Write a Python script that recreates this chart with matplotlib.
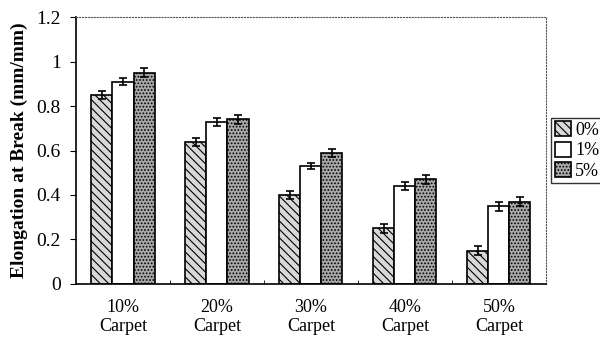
import numpy as np
import matplotlib.pyplot as plt

plt.rcParams['font.family'] = ['Liberation Serif', 'DejaVu Serif']
plt.rcParams['hatch.linewidth'] = 0.8

categories = ['10%\nCarpet', '20%\nCarpet', '30%\nCarpet', '40%\nCarpet', '50%\nCarpet']
series = ['0%', '1%', '5%']
vals_0 = [0.85, 0.64, 0.40, 0.25, 0.15]
vals_1 = [0.91, 0.73, 0.53, 0.44, 0.35]
vals_5 = [0.95, 0.74, 0.59, 0.47, 0.37]
err_0 = [0.018, 0.018, 0.02, 0.02, 0.02]
err_1 = [0.015, 0.018, 0.015, 0.018, 0.02]
err_5 = [0.02, 0.02, 0.018, 0.02, 0.02]

fig = plt.figure(figsize=(6, 3.48), dpi=100)
ax = fig.add_axes([0.1267, 0.184, 0.783, 0.767])

x = np.arange(len(categories))
w = 0.224
styles = [dict(facecolor='#d8d8d8', hatch='\\\\\\\\'),
          dict(facecolor='white', hatch=None),
          dict(facecolor='#a8a8a8', hatch='.....')]
for i, (v, e, st) in enumerate(zip([vals_0, vals_1, vals_5], [err_0, err_1, err_5], styles)):
    ax.bar(x + (i - 1) * w, v, w, edgecolor='black', linewidth=1.2, label=series[i],
           yerr=e, error_kw=dict(ecolor='black', elinewidth=1.2, capsize=3, capthick=1.2), **st)

ax.set_xlim(-0.5, len(categories) - 0.5)
ax.set_ylim(0, 1.2)
ax.set_yticks([0, 0.2, 0.4, 0.6, 0.8, 1.0, 1.2])
ax.set_yticklabels(['0', '0.2', '0.4', '0.6', '0.8', '1', '1.2'])
ax.set_xticks(x)
ax.set_xticklabels(categories, fontsize=13, linespacing=1.1)
ax.set_xticks(np.arange(0.5, len(categories) - 0.5), minor=True)
ax.tick_params(axis='x', which='major', length=0, pad=11)
ax.tick_params(axis='x', which='minor', length=3, direction='in')
ax.tick_params(axis='y', labelsize=14, length=4, pad=7, direction='out')
ax.set_ylabel('Elongation at Break (mm/mm)', fontsize=14, fontweight='bold', labelpad=6)

for s in ['top', 'right']:
    ax.spines[s].set_linestyle(':')
    ax.spines[s].set_color('#555555')
ax.spines['left'].set_linewidth(1.2)
ax.spines['bottom'].set_linewidth(1.2)

ax.legend(loc='center left', bbox_to_anchor=(1.012, 0.5), fontsize=13, frameon=True,
          fancybox=False, edgecolor='black', handlelength=0.9, handleheight=0.9,
          handletextpad=0.2, borderpad=0.2, labelspacing=0.15, borderaxespad=0)

fig.savefig('out.png', dpi=100)
